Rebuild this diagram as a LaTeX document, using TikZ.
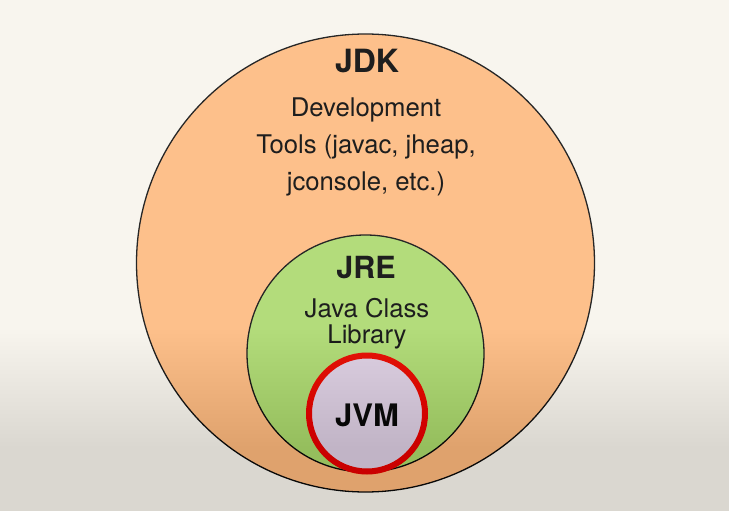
\documentclass[tikz,border=0pt]{standalone}
\usepackage{fontspec}
\setmainfont{TeX Gyre Heros}
\usepackage{tikz}
\usetikzlibrary{positioning,shapes,fit,calc}
\definecolor{bgcream}{HTML}{F8F5EE}
\definecolor{jdkfill}{HTML}{FDC08B}
\definecolor{jrefill}{HTML}{B3DC7B}
\definecolor{jvmfill}{HTML}{DFD2E4}
\definecolor{jvmring}{HTML}{E8180E}
\definecolor{inktext}{HTML}{1E1E1E}
\tikzset{
    layer/.style={circle, draw=black!85, line width=1.3pt, inner sep=0pt},
    title/.style={font=\bfseries, text=inktext},
    body/.style={font=\fontsize{25.7}{25.7}\selectfont, text=inktext}
}

\begin{document}
\begin{tikzpicture}[x=1pt, y=-1pt]
    \useasboundingbox (0,0) rectangle (729,511);
    \fill[bgcream] (0,0) rectangle (729,511);

    % nested circles
    \node[layer, fill=jdkfill, minimum size=458pt] (jdk) at (365.5,263) {};
    \node[layer, fill=jrefill, minimum size=237pt] (jre) at (365.5,353.5) {};
    \node[circle, draw=jvmring, line width=6pt, fill=jvmfill, minimum size=116pt, inner sep=0pt] (jvm) at (367,413.5) {};

    % labels
    \node[title, font=\bfseries\fontsize{32}{32}\selectfont] (l-jdk) at (367,61) {JDK};
    \foreach[count=\i] \lj in {Development,{Tools (javac, jheap,},{jconsole, etc.)}} {
        \node[body] (t-\i-jdk) at (366,73+37*\i) {\lj};
    }
    \node[title, font=\bfseries\fontsize{30.5}{30.5}\selectfont] (l-jre) at (366,268) {JRE};
    \foreach[count=\i] \lj in {Java Class,Library} {
        \node[body] (t-\i-jre) at (367,279+29*\i) {\lj};
    }
    \node[title, font=\bfseries\fontsize{31}{31}\selectfont] (l-jvm) at (367,415) {JVM};

    % darker lower part of the frame
    \foreach \k in {0,...,29} {
        \fill[black, opacity=0.0055] (0,330+4*\k) rectangle (729,511);
    }
\end{tikzpicture}
\end{document}
